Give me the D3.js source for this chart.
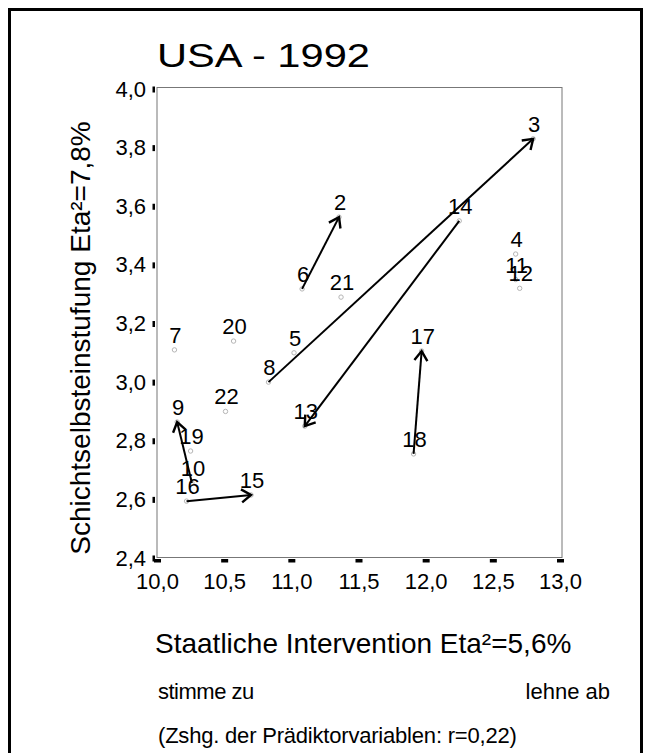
<!DOCTYPE html>
<html>
<head>
<meta charset="utf-8">
<script src="https://cdn.jsdelivr.net/npm/d3@7"></script>
<style>
  body { margin: 0; background: white; }
  text { font-family: "Liberation Sans", Arial, sans-serif; fill: black; }
</style>
</head>
<body>
<div id="container"></div>
<script>
let w = 651;
let h = 753;

// DATA
let labels  = ["2", "3", "4", "5", "6", "7", "8", "9", "10", "11", "12", "13", "14", "15", "16", "17", "18", "19", "20", "21", "22"];
let staat   = [11.355, 12.80, 12.67, 11.02, 11.08, 10.13, 10.83, 10.15, 10.26, 12.67, 12.70, 11.10, 12.25, 10.70, 10.22, 11.97, 11.91, 10.25, 10.57, 11.37, 10.51];
let schicht = [3.563, 3.83, 3.437, 3.10, 3.318, 3.11, 3.00, 2.864, 2.656, 3.35, 3.32, 2.85, 3.55, 2.615, 2.594, 3.106, 2.755, 2.765, 3.14, 3.29, 2.90];

// arrows: from label -> to label
let arrowFrom = ["6", "8", "14", "18", "10", "16"];
let arrowTo   = ["2", "3", "13", "17", "9", "15"];

let xTicks = [10.0, 10.5, 11.0, 11.5, 12.0, 12.5, 13.0];
let yTicks = [2.4, 2.6, 2.8, 3.0, 3.2, 3.4, 3.6, 3.8, 4.0];

let title = "USA - 1992";
let yTitle = "Schichtselbsteinstufung Eta²=7,8%";
let xTitle = "Staatliche Intervention Eta²=5,6%";
let leftNote = "stimme zu";
let rightNote = "lehne ab";
let footNote = "(Zshg. der Prädiktorvariablen: r=0,22)";

let points = labels.map(function(d, i) {
  return { label: d, x: staat[i], y: schicht[i] };
});
function findPoint(lbl) {
  return points.find(function(p) { return p.label == lbl; });
}

// SVG
let viz = d3.select("#container").append("svg")
    .attr("width", w)
    .attr("height", h)
    .style("display", "block")
;

// outer border (bottom edge runs off the page)
viz.append("rect")
    .attr("x", 9.5)
    .attr("y", 9.5)
    .attr("width", 632)
    .attr("height", 770)
    .attr("fill", "none")
    .attr("stroke", "black")
    .attr("stroke-width", 3)
;

// SCALES
let xScale = d3.scaleLinear().domain([10, 13]).range([157, 560]);
let yScale = d3.scaleLinear().domain([2.4, 4.0]).range([558, 89]);

// plot frame
viz.append("rect")
    .attr("x", 157)
    .attr("y", 87.5)
    .attr("width", 405)
    .attr("height", 470)
    .attr("fill", "none")
    .attr("stroke", "#777")
    .attr("stroke-width", 1)
;

// Y AXIS
let yAxis = d3.axisLeft(yScale)
    .tickValues(yTicks)
    .tickSize(0)
    .tickPadding(11)
    .tickFormat(function(d) { return d3.format(".1f")(d).replace(".", ","); })
;
let yAxisGroup = viz.append("g").attr("transform", "translate(157,0)").call(yAxis);
yAxisGroup.select(".domain").remove();
yAxisGroup.selectAll("text")
    .style("font-size", "22px")
    .style("font-family", "Liberation Sans, Arial, sans-serif")
    .attr("fill", "black")
;
yAxisGroup.selectAll(".tick").append("rect")
    .attr("x", -4.5)
    .attr("y", -3)
    .attr("width", 2.5)
    .attr("height", 6)
    .attr("fill", "black")
;

// X AXIS
let xAxis = d3.axisBottom(xScale)
    .tickValues(xTicks)
    .tickSize(0)
    .tickPadding(16)
    .tickFormat(function(d) { return d3.format(".1f")(d).replace(".", ","); })
;
let xAxisGroup = viz.append("g").attr("transform", "translate(0,557)").call(xAxis);
xAxisGroup.select(".domain").remove();
xAxisGroup.selectAll("text")
    .style("font-size", "22px")
    .style("font-family", "Liberation Sans, Arial, sans-serif")
    .attr("fill", "black")
;
xAxisGroup.selectAll(".tick").append("rect")
    .attr("x", -3.5)
    .attr("y", 2)
    .attr("width", 7)
    .attr("height", 3.5)
    .attr("fill", "black")
;

// ARROW HEAD
viz.append("defs").append("marker")
    .attr("id", "head")
    .attr("viewBox", "0 0 14 16")
    .attr("markerWidth", 14)
    .attr("markerHeight", 16)
    .attr("markerUnits", "userSpaceOnUse")
    .attr("refX", 11)
    .attr("refY", 8)
    .attr("orient", "auto")
  .append("path")
    .attr("d", "M1.5,1.5 L11,8 L1.5,14.5")
    .attr("fill", "none")
    .attr("stroke", "black")
    .attr("stroke-width", 2.4)
    .attr("stroke-linejoin", "miter")
;

// small point markers
viz.selectAll(".dot").data(points).enter()
  .append("circle")
    .attr("class", "dot")
    .attr("cx", function(d) { return xScale(d.x); })
    .attr("cy", function(d) { return yScale(d.y); })
    .attr("r", 2.2)
    .attr("fill", "none")
    .attr("stroke", "#b5b5b5")
    .attr("stroke-width", 1)
;

// arrows
let arrows = arrowFrom.map(function(f, i) {
  return { from: findPoint(f), to: findPoint(arrowTo[i]) };
});
viz.selectAll(".arrow").data(arrows).enter()
  .append("line")
    .attr("class", "arrow")
    .attr("x1", function(d) { return xScale(d.from.x); })
    .attr("y1", function(d) { return yScale(d.from.y); })
    .attr("x2", function(d) { return xScale(d.to.x); })
    .attr("y2", function(d) { return yScale(d.to.y); })
    .attr("stroke", "black")
    .attr("stroke-width", 2)
    .attr("marker-end", "url(#head)")
;

// point labels
viz.selectAll(".plabel").data(points).enter()
  .append("text")
    .attr("class", "plabel")
    .attr("x", function(d) { return xScale(d.x) + 1; })
    .attr("y", function(d) { return yScale(d.y) - 7; })
    .attr("text-anchor", "middle")
    .style("font-size", "22px")
    .text(function(d) { return d.label; })
;

// TITLES
viz.append("text")
    .attr("x", 157)
    .attr("y", 67)
    .attr("textLength", 213)
    .attr("lengthAdjust", "spacingAndGlyphs")
    .style("font-size", "33px")
    .text(title)
;

viz.append("text")
    .attr("transform", "translate(90,338) rotate(-90)")
    .attr("text-anchor", "middle")
    .style("font-size", "28px")
    .text(yTitle)
;

viz.append("text")
    .attr("x", 155)
    .attr("y", 653)
    .style("font-size", "28px")
    .text(xTitle)
;

viz.append("text")
    .attr("x", 158)
    .attr("y", 699)
    .style("font-size", "22px")
    .style("letter-spacing", "-0.5px")
    .text(leftNote)
;

viz.append("text")
    .attr("x", 610)
    .attr("y", 699)
    .attr("text-anchor", "end")
    .style("font-size", "22px")
    .text(rightNote)
;

viz.append("text")
    .attr("x", 158)
    .attr("y", 743)
    .style("font-size", "22px")
    .style("letter-spacing", "-0.2px")
    .text(footNote)
;
</script>
</body>
</html>
